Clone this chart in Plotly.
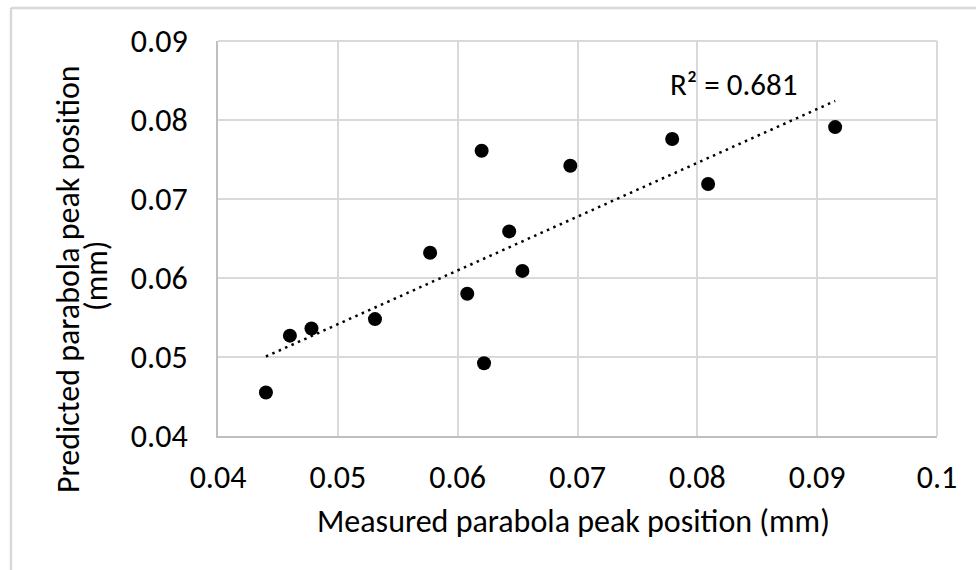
import numpy as np
import plotly.graph_objects as go

# Data
measured = [0.0440, 0.0460, 0.0478, 0.0531, 0.0577, 0.0608, 0.0620, 0.0622,
            0.0643, 0.0654, 0.0694, 0.0779, 0.0809, 0.0915]
predicted = [0.0455, 0.0527, 0.0536, 0.0548, 0.0632, 0.0580, 0.0761, 0.0492,
             0.0659, 0.0609, 0.0742, 0.0776, 0.0719, 0.0791]
x_ticks = [0.04, 0.05, 0.06, 0.07, 0.08, 0.09, 0.1]
y_ticks = [0.04, 0.05, 0.06, 0.07, 0.08, 0.09]
r2_label = "R² = 0.681"
x_title = "Measured parabola peak position (mm)"
y_title_lines = ["Predicted parabola peak position", "(mm)"]

W, H = 976, 570
ML, MR, MT, MB = 218, 39, 41, 134
PW, PH = W - ML - MR, H - MT - MB


def px(x):
    return (x - ML) / PW


def py(y):
    return (H - MB - y) / PH


# Linear trendline (least squares)
xa, ya = np.array(measured), np.array(predicted)
slope, intercept = np.polyfit(xa, ya, 1)
tx = np.array([xa.min(), xa.max()])
ty = slope * tx + intercept

FONT = "Carlito, Lato, sans-serif"
FS = 32
GRID = "#d9d9d9"

fig = go.Figure()
fig.add_trace(go.Scatter(x=measured, y=predicted, mode="markers",
                         marker=dict(color="black", size=14),
                         showlegend=False, hoverinfo="skip"))
fig.add_trace(go.Scatter(x=tx, y=ty, mode="lines",
                         line=dict(color="black", width=2.5, dash="2.5px,4.5px"),
                         showlegend=False, hoverinfo="skip"))

fig.update_layout(
    width=W, height=H,
    margin=dict(l=ML, r=MR, t=MT, b=MB),
    paper_bgcolor="white", plot_bgcolor="white",
    font=dict(family=FONT, size=FS, color="black"),
    xaxis=dict(range=[0.04, 0.1], tickvals=x_ticks, ticktext=[str(v) for v in x_ticks],
               showgrid=True, gridcolor=GRID, gridwidth=2,
               showline=True, linecolor="#bfbfbf", linewidth=2,
               ticks="", zeroline=False, ticklabelstandoff=12,
               tickfont=dict(size=FS)),
    yaxis=dict(range=[0.04, 0.09], tickvals=y_ticks, ticktext=[str(v) for v in y_ticks],
               showgrid=True, gridcolor=GRID, gridwidth=2,
               showline=True, linecolor="#bfbfbf", linewidth=2,
               ticks="", zeroline=False, ticklabelstandoff=22,
               tickfont=dict(size=FS)),
    shapes=[
        dict(type="line", xref="paper", yref="paper", x0=0, x1=1, y0=1, y1=1,
             line=dict(color=GRID, width=2)),
        dict(type="line", xref="paper", yref="paper", x0=1, x1=1, y0=0, y1=1,
             line=dict(color=GRID, width=2)),
        # outer chart frame (left and top edges visible)
        dict(type="line", xref="paper", yref="paper", x0=px(11), x1=px(11),
             y0=py(8), y1=py(600), line=dict(color=GRID, width=2.5)),
        dict(type="line", xref="paper", yref="paper", x0=px(11), x1=px(1000),
             y0=py(8), y1=py(8), line=dict(color=GRID, width=2.5)),
    ],
    annotations=[
        dict(text=x_title, xref="paper", yref="paper", x=px(573), y=py(521),
             xanchor="center", yanchor="middle", showarrow=False,
             font=dict(size=FS)),
        dict(text=y_title_lines[0], xref="paper", yref="paper", x=px(68), y=py(279),
             xanchor="center", yanchor="middle", textangle=-90, showarrow=False,
             font=dict(size=FS)),
        dict(text=y_title_lines[1], xref="paper", yref="paper", x=px(96), y=py(276),
             xanchor="center", yanchor="middle", textangle=-90, showarrow=False,
             font=dict(size=FS)),
        dict(text=r2_label, xref="x", yref="y", x=0.0830, y=0.08456,
             xanchor="center", yanchor="middle", showarrow=False, font=dict(size=31)),
    ],
)

fig.write_html("out.html")
